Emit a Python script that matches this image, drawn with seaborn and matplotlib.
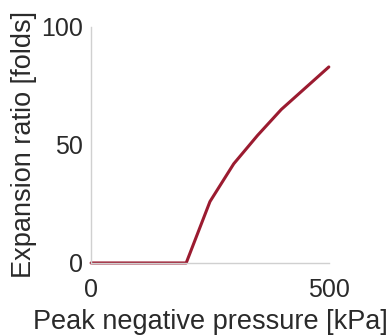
import matplotlib
matplotlib.use("Agg")
import matplotlib.pyplot as plt
import seaborn as sns
import pandas as pd

pressure_kpa = [0, 50, 100, 150, 200, 250, 300, 350, 400, 450, 500]
expansion_ratio = [0, 0, 0, 0, 0, 26, 42, 54, 65, 74, 83]
x_ticks = [0, 500]
y_ticks = [0, 50, 100]

sns.set_theme(style="white")
plt.rcParams['font.family'] = ['Liberation Sans', 'DejaVu Sans']

df = pd.DataFrame({"p": pressure_kpa, "r": expansion_ratio})

fig = plt.figure(figsize=(3.91, 3.35), dpi=100)
ax = fig.add_axes([0.233, 0.215, 0.608, 0.705])
sns.lineplot(data=df, x="p", y="r", ax=ax, color="#9b1b30", linewidth=2.2, clip_on=False)

ax.set_xlim(0, 500)
ax.set_ylim(0, 100)
ax.set_xticks(x_ticks)
ax.set_yticks(y_ticks)
ax.tick_params(axis="both", length=0, labelsize=18, colors="#2a2a2a")
ax.tick_params(axis="x", pad=11)
ax.tick_params(axis="y", pad=6)
for s in ["top", "right"]:
    ax.spines[s].set_visible(False)
for s in ["left", "bottom"]:
    ax.spines[s].set_color("#d0d0d0")
    ax.spines[s].set_linewidth(1)
ax.set_xlabel("Peak negative pressure [kPa]", fontsize=19.5, color="#2a2a2a", labelpad=5)
ax.set_ylabel("Expansion ratio [folds]", fontsize=19.5, color="#2a2a2a", labelpad=3)

fig.savefig("out.png", dpi=100, facecolor="white")
